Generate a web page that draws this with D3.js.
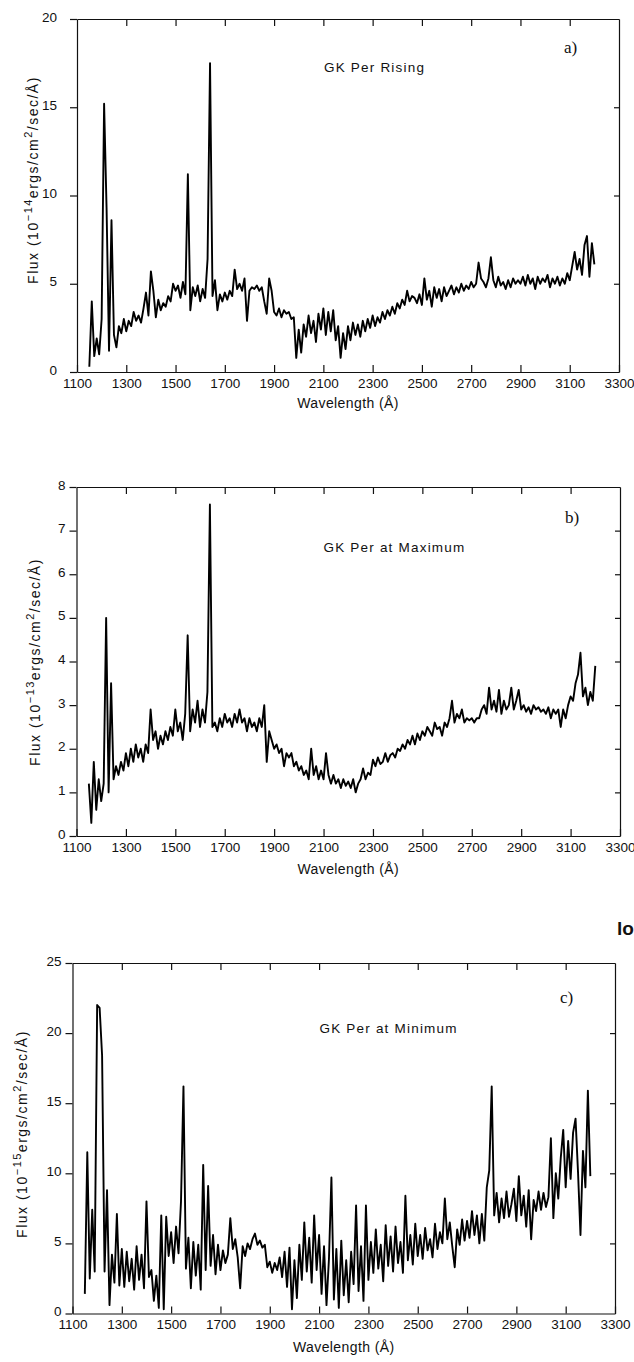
<!DOCTYPE html>
<html>
<head>
<meta charset="utf-8">
<script src="https://cdn.jsdelivr.net/npm/d3@7"></script>
<style>
  body { margin: 0; background: #fff; }
  text { font-family: "Liberation Sans", Arial, sans-serif; fill: #111; }
</style>
</head>
<body>
<svg id="fig" width="634" height="1362"></svg>
<script>
// wavelength grid of the sampled spectra (Angstrom, 10 A steps)
var waves = d3.range(1150, 3201, 10);

// a) GK Per rising, units 1e-14
var fluxRising = [
  0.3, 4.0, 0.9, 1.9, 1.0, 3.0, 15.2, 9.3, 1.2, 8.6,
  2.1, 1.4, 2.6, 2.2, 3.0, 2.3, 2.9, 2.6, 3.4, 2.9,
  3.2, 2.8, 3.6, 4.5, 3.2, 5.7, 4.6, 3.1, 4.1, 3.5,
  3.9, 3.7, 4.3, 4.0, 5.0, 4.6, 4.9, 4.2, 5.1, 4.4,
  11.2, 3.5, 4.8, 4.3, 4.9, 4.0, 4.7, 4.2, 6.4, 17.5,
  4.3, 5.2, 3.5, 4.4, 4.0, 4.5, 4.1, 4.6, 4.3, 5.8,
  4.7, 5.0, 4.6, 5.3, 2.9, 4.6, 4.8, 4.7, 4.9, 4.6,
  4.8, 4.0, 3.3, 5.3, 4.6, 3.4, 3.2, 3.6, 3.1, 3.5,
  3.3, 3.4, 3.0, 3.1, 0.8, 2.4, 1.1, 2.7, 2.0, 3.2,
  2.2, 2.9, 1.7, 3.3, 2.4, 3.6, 2.1, 3.4, 2.3, 3.5,
  1.8, 2.6, 0.8, 2.2, 1.3, 2.6, 1.8, 2.8, 2.1, 2.7,
  2.0, 2.9, 2.3, 3.0, 2.5, 3.2, 2.6, 3.1, 2.8, 3.4,
  3.0, 3.5, 3.2, 3.7, 3.3, 3.9, 3.6, 4.1, 3.8, 4.6,
  4.0, 4.3, 4.2, 3.9, 4.4, 3.8, 5.3, 4.1, 4.6, 3.7,
  4.8, 4.2, 4.7, 4.0, 4.8, 4.3, 4.6, 4.9, 4.4, 4.8,
  4.5, 5.0, 4.6, 4.9, 4.7, 5.1, 4.8, 5.0, 6.2, 5.3,
  5.1, 4.8, 5.3, 6.5, 5.2, 4.8, 5.4, 4.9, 5.1, 4.7,
  5.2, 4.8, 5.3, 5.0, 5.2, 5.0, 5.4, 4.9, 5.5, 5.0,
  5.3, 4.7, 5.4, 5.0, 5.3, 5.1, 5.5, 4.8, 5.3, 5.0,
  5.4, 4.9, 5.3, 5.0, 5.6, 5.2, 6.0, 6.8, 5.8, 6.4,
  5.5, 7.2, 7.7, 5.4, 7.3, 6.1
];

// b) GK Per at maximum, units 1e-13
var fluxMaximum = [
  1.2, 0.3, 1.7, 0.6, 1.3, 0.8, 1.2, 5.0, 1.0, 3.5,
  1.3, 1.6, 1.4, 1.7, 1.5, 1.9, 1.6, 2.0, 1.7, 2.1,
  1.8, 2.0, 1.7, 2.1, 1.9, 2.9, 2.2, 2.4, 2.0, 2.3,
  2.1, 2.4, 2.2, 2.5, 2.3, 2.9, 2.4, 2.6, 2.2, 2.8,
  4.6, 2.4, 2.9, 2.6, 3.1, 2.5, 2.9, 2.6, 3.3, 7.6,
  2.5, 2.6, 2.4, 2.7, 2.5, 2.8, 2.6, 2.7, 2.5, 2.8,
  2.6, 2.9, 2.6, 2.7, 2.4, 2.7, 2.5, 2.6, 2.4, 2.7,
  2.5, 3.0, 1.7, 2.4, 2.2, 2.0, 2.1, 1.9, 2.0, 1.6,
  1.9, 1.8, 1.9, 1.6, 1.7, 1.5, 1.6, 1.4, 1.5, 1.3,
  2.0, 1.4, 1.6, 1.3, 1.5, 1.3, 1.9, 1.4, 1.2, 1.4,
  1.2, 1.3, 1.1, 1.3, 1.15, 1.25, 1.1, 1.3, 1.0, 1.2,
  1.3, 1.55, 1.3, 1.45, 1.4, 1.75, 1.6, 1.8, 1.65, 1.7,
  1.9, 1.7, 1.85, 1.9, 1.8, 2.0, 1.95, 2.1, 2.0, 2.2,
  2.1, 2.3, 2.1, 2.35, 2.2, 2.4, 2.3, 2.5, 2.4, 2.3,
  2.6, 2.45, 2.5, 2.3, 2.6, 2.5, 2.7, 3.1, 2.6, 2.8,
  2.7, 2.9, 2.6, 2.7, 2.65, 2.7, 2.6, 2.7, 2.7, 2.9,
  3.0, 2.8, 3.4, 2.9, 3.1, 2.85, 3.35, 2.8, 3.1, 2.9,
  3.0, 3.4, 2.9, 3.1, 3.35, 2.9, 3.0, 2.85, 2.95, 2.8,
  3.0, 2.9, 2.95, 2.85, 2.9, 2.8, 2.95, 2.7, 2.9, 2.8,
  2.9, 2.5, 2.9, 2.7, 3.0, 3.2, 3.1, 3.5, 3.7, 4.2,
  3.2, 3.4, 3.0, 3.3, 3.1, 3.9
];

// c) GK Per at minimum, units 1e-15
var fluxMinimum = [
  1.4, 11.5, 2.5, 7.4, 3.0, 22.0, 21.8, 18.4, 3.0, 8.8,
  0.6, 4.2, 2.2, 7.1, 2.0, 4.6, 1.9, 4.4, 2.3, 3.9,
  1.7, 4.8, 2.4, 4.2, 1.8, 8.0, 2.6, 3.1, 0.9, 2.7,
  0.4, 7.0, 0.3, 6.9, 4.1, 5.8, 3.6, 6.2, 4.3, 8.0,
  16.2, 3.2, 5.4, 1.8, 5.1, 2.7, 4.9, 1.7, 10.6, 3.1,
  9.1, 3.4, 5.6, 2.8, 4.9, 3.1, 4.5, 3.6, 4.2, 6.8,
  4.6, 5.3, 4.0, 1.8, 4.8, 4.1, 5.0, 4.6, 5.3, 5.7,
  4.9, 5.2, 4.7, 4.9, 3.3, 3.7, 2.9, 3.6, 3.1, 4.0,
  2.6, 4.4, 1.9, 4.7, 0.3, 3.8, 1.1, 4.9, 2.4, 6.5,
  3.0, 5.4, 2.2, 7.0, 3.1, 5.6, 1.4, 4.8, 0.6, 3.9,
  9.7, 1.0, 4.6, 0.4, 5.2, 1.3, 3.8, 0.8, 4.4, 2.1,
  7.7, 1.6, 4.8, 0.9, 7.7, 2.4, 5.1, 2.9, 6.0, 3.2,
  4.9, 2.3, 6.3, 3.4, 5.5, 3.0, 6.2, 3.6, 5.1, 2.9,
  8.4, 3.8, 5.6, 3.5, 6.4, 4.1, 5.6, 3.9, 6.1, 4.5,
  5.3, 4.0, 6.4, 4.6, 5.8, 5.0, 8.2, 5.3, 6.5, 4.8,
  3.3, 6.0, 4.9, 6.7, 5.2, 6.6, 5.4, 7.3, 5.6, 7.0,
  5.0, 7.1, 5.2, 9.0, 10.2, 16.2, 7.0, 8.6, 6.5, 8.2,
  6.8, 8.7, 6.9, 7.8, 8.9, 6.6, 9.8, 7.0, 8.4, 6.2,
  8.8, 5.3, 8.1, 7.3, 8.7, 7.4, 8.6, 7.6, 8.3, 12.5,
  6.8, 10.0, 8.2, 11.1, 13.1, 9.0, 12.3, 9.6, 12.9, 13.9,
  10.1, 5.6, 11.6, 9.0, 15.9, 9.8
];

var xTicks = [1100, 1300, 1500, 1700, 1900, 2100, 2300, 2500, 2700, 2900, 3100, 3300];
var yTicksRising = [0, 5, 10, 15, 20];
var yTicksMaximum = [0, 1, 2, 3, 4, 5, 6, 7, 8];
var yTicksMinimum = [0, 5, 10, 15, 20, 25];
var titles = ["GK Per Rising", "GK Per at Maximum", "GK Per at Minimum"];
var letters = ["a)", "b)", "c)"];
var exponents = ["14", "13", "15"];

var panels = [
  { flux: fluxRising, ticks: yTicksRising, ymax: 20, left: 77, right: 619, top: 19, bottom: 372,
    pad: 13, titleY: 72, letterY: 53, ylabX: 38, ylabY: 180, xlabY: 408 },
  { flux: fluxMaximum, ticks: yTicksMaximum, ymax: 8, left: 76.5, right: 620, top: 487, bottom: 836,
    pad: 4, titleY: 552, letterY: 523, ylabX: 40, ylabY: 662, xlabY: 874 },
  { flux: fluxMinimum, ticks: yTicksMinimum, ymax: 25, left: 72.5, right: 615, top: 963, bottom: 1313.5,
    pad: 4, titleY: 1033, letterY: 1003, ylabX: 27, ylabY: 1134, xlabY: 1352 }
];

var svg = d3.select("#fig");

panels.forEach(function (p, i) {
  var x = d3.scaleLinear().domain([1100, 3300]).range([p.left, p.right]);
  var y = d3.scaleLinear().domain([0, p.ymax]).range([p.bottom, p.top]);
  var g = svg.append("g");

  // frame + ticks (inward except on the left)
  var bottom = g.append("g").attr("transform", "translate(0," + p.bottom + ")")
    .call(d3.axisBottom(x).tickValues(xTicks).tickFormat(d3.format("d"))
      .tickSizeInner(-7).tickSizeOuter(0).tickPadding(6));
  g.append("g").attr("transform", "translate(0," + p.top + ")")
    .call(d3.axisBottom(x).tickValues(xTicks.slice(1, -1)).tickSize(7).tickSizeOuter(0).tickFormat(""));
  var left = g.append("g").attr("transform", "translate(" + p.left + ",0)")
    .call(d3.axisLeft(y).tickValues(p.ticks).tickFormat(d3.format("d"))
      .tickSizeInner(7).tickSizeOuter(0).tickPadding(p.pad));
  g.append("g").attr("transform", "translate(" + p.right + ",0)")
    .call(d3.axisLeft(y).tickValues(p.ticks.slice(1, -1)).tickSize(5).tickSizeOuter(0).tickFormat(""));

  g.selectAll(".domain, .tick line").attr("stroke", "#111").attr("stroke-width", 1.2);
  bottom.selectAll("text").style("font-size", "13.5px").attr("fill", "#111");
  left.selectAll("text").style("font-size", "13.5px").attr("fill", "#111").attr("dy", "0.15em");

  // spectrum
  var line = d3.line()
    .x(function (d, k) { return x(waves[k]); })
    .y(function (d) { return y(d); });
  g.append("path")
    .datum(p.flux)
    .attr("d", line)
    .attr("fill", "none")
    .attr("stroke", "#000")
    .attr("stroke-width", 1.9)
    .attr("stroke-linejoin", "round");

  // labels
  g.append("text").attr("x", p.left + 247).attr("y", p.titleY)
    .style("font-size", "13.5px").style("letter-spacing", "1.2px").text(titles[i]);
  g.append("text").attr("x", p.right - 55).attr("y", p.letterY)
    .style("font-family", "'Liberation Serif', 'Times New Roman', serif").style("font-size", "17px")
    .text(letters[i]);
  g.append("text").attr("x", (p.left + p.right) / 2).attr("y", p.xlabY)
    .attr("text-anchor", "middle").style("font-size", "14px").style("letter-spacing", "0.4px")
    .text("Wavelength (Å)");

  var yl = g.append("text")
    .attr("transform", "translate(" + p.ylabX + "," + p.ylabY + ") rotate(-90)")
    .attr("text-anchor", "middle").style("font-size", "14px").style("letter-spacing", "1.5px");
  yl.append("tspan").text("Flux (10");
  yl.append("tspan").attr("dy", -6).style("font-size", "11px").text("−" + exponents[i]);
  yl.append("tspan").attr("dy", 6).text("ergs/cm");
  yl.append("tspan").attr("dy", -6).style("font-size", "11px").text("2");
  yl.append("tspan").attr("dy", 6).text("/sec/Å)");
});

// fragment of the next page's text at the right margin
svg.append("text").attr("x", 617).attr("y", 935)
  .style("font-size", "19px").style("font-weight", "bold").text("lo");
</script>
</body>
</html>
